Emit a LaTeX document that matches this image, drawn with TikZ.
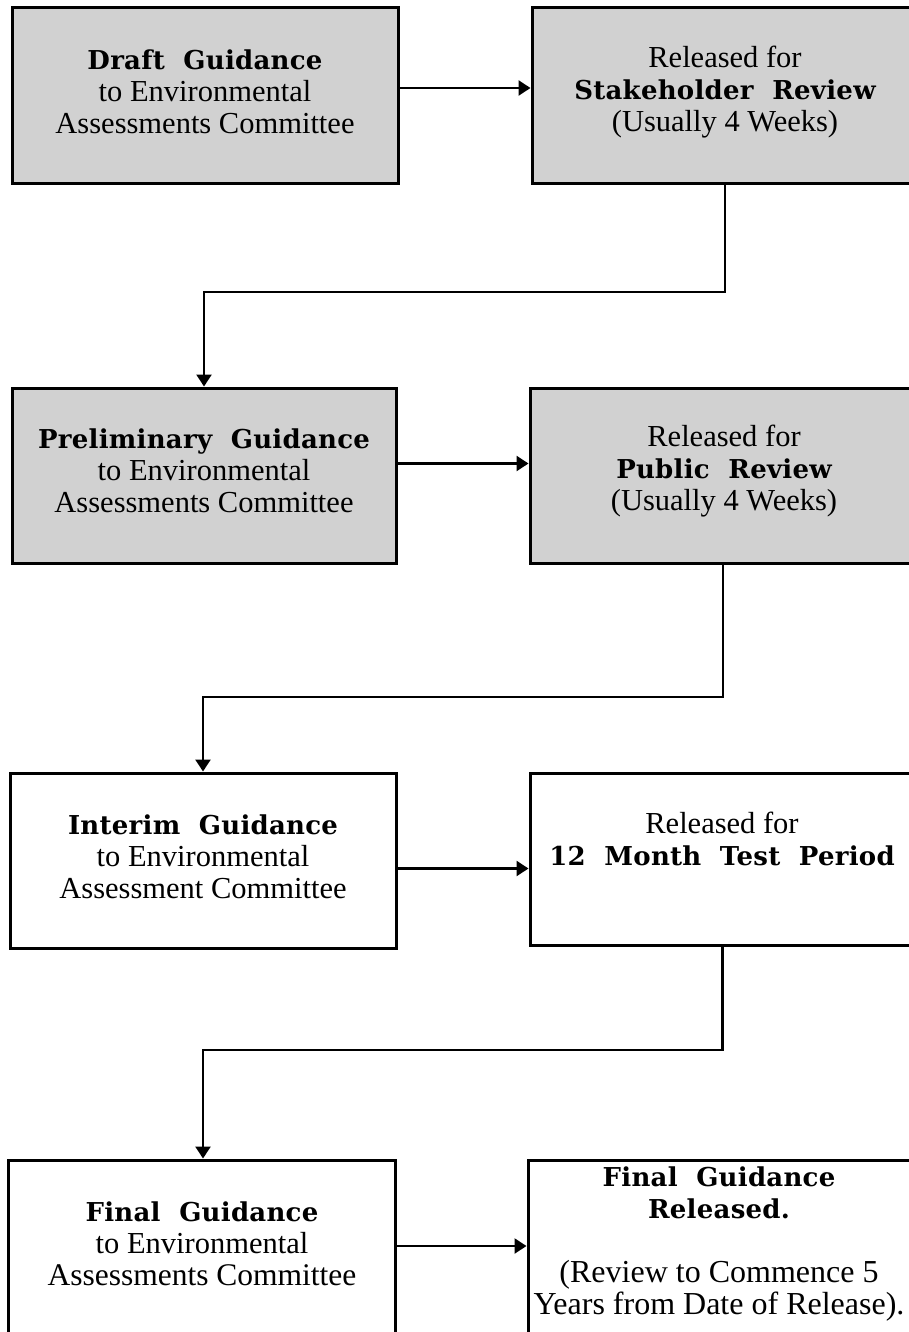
\documentclass[tikz,border=0pt]{standalone}
\usepackage{fontspec}
\setmainfont{Liberation Serif}
\newfontfamily\boldf{DejaVu Serif}[LetterSpace=1]
\usetikzlibrary{arrows.meta}
\tikzset{
  box/.style={draw=black, line width=3pt, rectangle, inner sep=0pt},
  shaded/.style={fill=black!18},
  plain/.style={fill=white},
  txt/.style={align=center, font=\fontsize{30.5}{32}\selectfont, inner sep=0pt},
  conn/.style={draw=black, line width=2.4pt, -{Triangle[length=12pt,width=15pt]}},
}
\newcommand{\bt}[1]{{\boldf\bfseries\fontsize{26}{32}\selectfont #1}}
\begin{document}
\begin{tikzpicture}[x=1pt,y=-1pt]
\useasboundingbox (0,0) rectangle (908,1332);
\fill[white] (0,0) rectangle (908,1332);
% boxes
\node[box,shaded,minimum width=386pt,minimum height=176pt] (b1) at (205,96) {};
\node[box,shaded,minimum width=383pt,minimum height=176pt] (b2) at (723.5,96) {};
\node[box,shaded,minimum width=384pt,minimum height=175pt] (b3) at (204,475.5) {};
\node[box,shaded,minimum width=385pt,minimum height=175pt] (b4) at (722.5,475.5) {};
\node[box,plain,minimum width=386pt,minimum height=175pt] (b5) at (203,860.5) {};
\node[box,plain,minimum width=385pt,minimum height=172pt] (b6) at (722.5,859) {};
\node[box,plain,minimum width=387pt,minimum height=180pt] (b7) at (201.5,1250) {};
\node[box,plain,minimum width=387pt,minimum height=180pt] (b8) at (721.5,1250) {};
% texts
\node[txt] (t1) at (205,92) {\bt{Draft\ \ Guidance}\\to Environmental\\Assessments Committee};
\node[txt] (t2) at (725,92) {Released for\\\bt{Stakeholder\ \ Review}\\(Usually 4 Weeks)};
\node[txt] (t3) at (204,471) {\bt{Preliminary\ \ Guidance}\\to Environmental\\Assessments Committee};
\node[txt] (t4) at (724,471) {Released for\\\bt{Public\ \ Review}\\(Usually 4 Weeks)};
\node[txt] (t5) at (203,857) {\bt{Interim\ \ Guidance}\\to Environmental\\Assessment Committee};
\node[txt] (t6) at (722,839) {Released for\\\bt{12\ \ Month\ \ Test\ \ Period}};
\node[txt] (t7) at (202,1244) {\bt{Final\ \ Guidance}\\to Environmental\\{\fontsize{31.5}{32}\selectfont Assessments Committee}};
\node[txt] (t8) at (719,1244) {\bt{Final\ \ Guidance}\\\bt{Released.}\\[32pt]{\fontsize{32}{32}\selectfont (Review to Commence 5}\\{\fontsize{32}{32}\selectfont Years from Date of Release).}};
% connectors
\coordinate (c1) at (204,292);
\coordinate (c2) at (203,697);
\coordinate (c3) at (203,1050);
\draw[conn] ([yshift=8pt]b1.east) -- ([yshift=8pt]b1.east -| b2.west);
\draw[conn] ([yshift=12pt]b3.east) -- ([yshift=12pt]b3.east -| b4.west);
\draw[conn] ([yshift=-8pt]b5.east) -- ([yshift=-8pt]b5.east -| b6.west);
\draw[conn] ([yshift=4pt]b7.east) -- ([yshift=4pt]b7.east -| b8.west);
\draw[conn] ([xshift=1.5pt]b2.south) |- (c1) -- (b3.north);
\draw[conn] ([xshift=0.5pt]b4.south) |- (c2) -- (b5.north);
\draw[conn] (b6.south) |- (c3) -- ([xshift=1.5pt]b7.north);
\end{tikzpicture}
\end{document}
